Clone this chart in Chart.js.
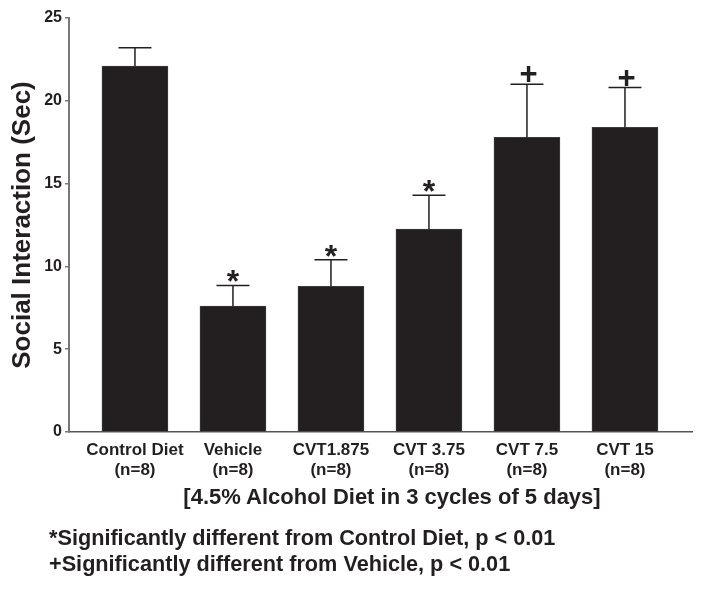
<!DOCTYPE html>
<html lang="en">
<head>
    <meta charset="UTF-8">
    <title>Social Interaction</title>
    <script src="https://cdn.jsdelivr.net/npm/chart.js@4.4.1/dist/chart.umd.min.js"></script>
    <style>
        body {
            margin: 0;
            background: #fff;
            font-family: 'Liberation Sans', Arial, Helvetica, sans-serif;
            color: #231f20;
        }

        .wrap {
            position: relative;
            width: 704px;
            height: 590px;
        }

        #chart {
            position: absolute;
            left: 0;
            top: 0;
        }

        .xtitle {
            position: absolute;
            left: 392px;
            top: 484px;
            transform: translateX(-50%);
            white-space: nowrap;
            font-size: 22px;
            font-weight: bold;
            line-height: 26px;
        }

        .notes {
            position: absolute;
            left: 49px;
            top: 525px;
            font-size: 22px;
            font-weight: bold;
            line-height: 26px;
            white-space: nowrap;
            transform: scaleX(0.985);
            transform-origin: left top;
        }
    </style>
</head>
<body>
    <div class="wrap">
        <canvas id="chart" width="704" height="590"></canvas>
        <div class="xtitle">[4.5% Alcohol Diet in 3 cycles of 5 days]</div>
        <div class="notes">
            <div>*Significantly different from Control Diet, p &lt; 0.01</div>
            <div>+Significantly different from Vehicle, p &lt; 0.01</div>
        </div>
    </div>

    <script>
        // groups and their n
        var groups = ['Control Diet', 'Vehicle', 'CVT1.875', 'CVT 3.75', 'CVT 7.5', 'CVT 15'];
        var groupN = ['(n=8)', '(n=8)', '(n=8)', '(n=8)', '(n=8)', '(n=8)'];

        // mean social interaction time (sec) and upper error (SEM)
        var means = [22.1, 7.6, 8.8, 12.25, 17.8, 18.4];
        var errors = [1.1, 1.25, 1.6, 2.05, 3.2, 2.4];

        // significance markers above the error bars
        var sigMarks = ['', '*', '*', '*', '+', '+'];

        var yTicks = [0, 5, 10, 15, 20, 25];

        var ink = '#231f20';
        var fontFamily = "'Liberation Sans', Arial, Helvetica, sans-serif";

        var barData = means.map(function (v, i) { return { x: i, y: v }; });

        // error bars + significance markers, placed with the chart scales
        var errorBarPlugin = {
            id: 'errorBars',
            afterDatasetsDraw: function (chart) {
                var ctx = chart.ctx;
                var xs = chart.scales.x;
                var ys = chart.scales.y;
                ctx.save();
                ctx.strokeStyle = ink;
                ctx.lineWidth = 1.5;
                for (var i = 0; i < means.length; i++) {
                    var cx = xs.getPixelForValue(i);
                    var yTop = ys.getPixelForValue(means[i]);
                    var yCap = ys.getPixelForValue(means[i] + errors[i]);
                    ctx.beginPath();
                    ctx.moveTo(cx, yTop);
                    ctx.lineTo(cx, yCap);
                    ctx.moveTo(cx - 16.5, yCap);
                    ctx.lineTo(cx + 16.5, yCap);
                    ctx.stroke();

                    var mark = sigMarks[i];
                    if (mark) {
                        var size = mark === '*' ? 32 : 31;
                        var gap = mark === '*' ? 9 : 10.5;
                        ctx.font = 'bold ' + size + 'px ' + fontFamily;
                        ctx.fillStyle = ink;
                        ctx.textAlign = 'center';
                        ctx.textBaseline = 'alphabetic';
                        var m = ctx.measureText(mark);
                        var mid = (m.actualBoundingBoxAscent - m.actualBoundingBoxDescent) / 2;
                        ctx.fillText(mark, cx + (mark === '+' ? 1.5 : 0), yCap - gap + mid);
                    }
                }
                ctx.restore();
            }
        };

        var chartCtx = document.getElementById('chart').getContext('2d');
        var chart = new Chart(chartCtx, {
            type: 'bar',
            data: {
                datasets: [{
                    data: barData,
                    backgroundColor: ink,
                    borderColor: '#3d3a3b',
                    borderWidth: 1,
                    barThickness: 66
                }]
            },
            options: {
                responsive: false,
                devicePixelRatio: 1,
                animation: false,
                layout: {
                    padding: { top: 18, right: 12, bottom: 0, left: 0 }
                },
                plugins: {
                    legend: { display: false },
                    tooltip: { enabled: false }
                },
                scales: {
                    x: {
                        type: 'linear',
                        min: -0.673,
                        max: 5.684,
                        offset: false,
                        grid: { display: false, drawTicks: false },
                        border: { display: true, color: '#555', width: 1.5 },
                        afterBuildTicks: function (scale) {
                            scale.ticks = groups.map(function (g, i) { return { value: i }; });
                        },
                        afterFit: function (scale) {
                            scale.height = 158;
                        },
                        ticks: {
                            autoSkip: false,
                            maxRotation: 0,
                            padding: 8,
                            color: ink,
                            font: { family: fontFamily, size: 17, weight: 'bold', lineHeight: '20px' },
                            callback: function (value) {
                                return [groups[value], groupN[value]];
                            }
                        }
                    },
                    y: {
                        min: 0,
                        max: 25,
                        grid: {
                            display: true,
                            drawOnChartArea: false,
                            drawTicks: true,
                            tickLength: 4,
                            color: '#777',
                            lineWidth: 1.5
                        },
                        border: { display: true, color: '#777', width: 2 },
                        afterBuildTicks: function (scale) {
                            scale.ticks = yTicks.map(function (v) { return { value: v }; });
                        },
                        afterFit: function (scale) {
                            scale.width = 69;
                        },
                        ticks: {
                            padding: 3,
                            color: ink,
                            font: { family: fontFamily, size: 16, weight: 'bold' }
                        },
                        title: {
                            display: true,
                            text: 'Social Interaction (Sec)',
                            color: ink,
                            padding: { top: 7, bottom: 0 },
                            font: { family: fontFamily, size: 26, weight: 'bold', lineHeight: 1.2 }
                        }
                    }
                }
            },
            plugins: [errorBarPlugin]
        });
    </script>
</body>
</html>
